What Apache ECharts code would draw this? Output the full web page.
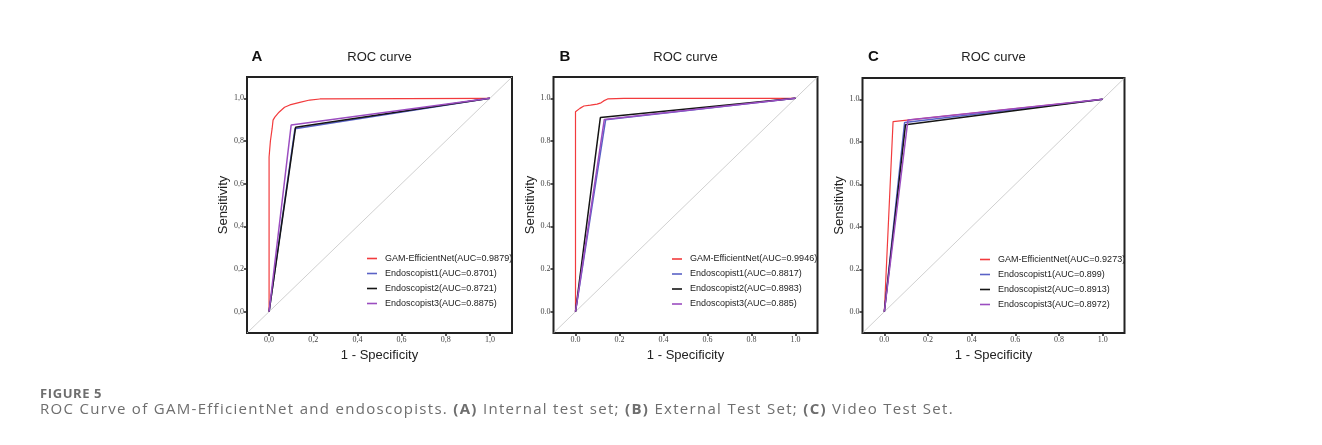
<!DOCTYPE html>
<html><head><meta charset="utf-8">
<script src="https://cdn.jsdelivr.net/npm/echarts@6.0.0/dist/echarts.min.js"></script>
<style>
html,body{margin:0;padding:0;background:#fff;width:1322px;height:445px;overflow:hidden;}
#chart{position:absolute;left:0;top:0;width:1322px;height:445px;}
#frame{position:absolute;left:9px;top:10px;right:0;bottom:0;border-top:2px solid #dcdcdc;border-left:1px solid #cfcfcf;pointer-events:none;}
#fig{position:absolute;left:40px;top:384px;font-family:"Open Sans";font-weight:700;font-size:13px;color:#6e6e6e;letter-spacing:0.6px;white-space:nowrap;}
#cap{position:absolute;left:40px;top:398px;font-family:"Open Sans";font-size:15px;color:#6e6e6e;letter-spacing:1.3px;white-space:nowrap;}
#cap b{font-weight:700;}
</style></head>
<body>
<div id="frame"></div>
<div id="chart"></div>
<div id="fig">FIGURE 5</div>
<div id="cap">ROC Curve of GAM-EfficientNet and endoscopists. <b>(A)</b> Internal test set; <b>(B)</b> External Test Set; <b>(C)</b> Video Test Set.</div>
<script>
// ---------- data ----------
const panelLetters = ['A', 'B', 'C'];
const panelTitle = 'ROC curve';
const xAxisName = '1 - Specificity';
const yAxisName = 'Sensitivity';
const tickValues = [0, 0.2, 0.4, 0.6, 0.8, 1.0];
const tickLabelsA = ['0,0', '0,2', '0,4', '0,6', '0,8', '1,0'];
const tickLabelsB = ['0.0', '0.2', '0.4', '0.6', '0.8', '1.0'];
const tickLabelsC = ['0.0', '0.2', '0.4', '0.6', '0.8', '1.0'];
const diagonal = [[-0.1, -0.1], [1.1, 1.1]];

const namesA = ['GAM-EfficientNet(AUC=0.9879)', 'Endoscopist1(AUC=0.8701)', 'Endoscopist2(AUC=0.8721)', 'Endoscopist3(AUC=0.8875)'];
const namesB = ['GAM-EfficientNet(AUC=0.9946)', 'Endoscopist1(AUC=0.8817)', 'Endoscopist2(AUC=0.8983)', 'Endoscopist3(AUC=0.885)'];
const namesC = ['GAM-EfficientNet(AUC=0.9273)', 'Endoscopist1(AUC=0.899)', 'Endoscopist2(AUC=0.8913)', 'Endoscopist3(AUC=0.8972)'];

const gamA = [[0,0],[0,0.725],[0.006,0.80],[0.014,0.86],[0.018,0.898],[0.026,0.912],[0.033,0.921],[0.045,0.935],[0.056,0.945],[0.07,0.958],[0.094,0.969],[0.139,0.981],[0.184,0.992],[0.23,0.997],[1,1]];
const endo1A = [[0,0],[0.117,0.857],[1,1]];
const endo2A = [[0,0],[0.12,0.864],[1,1]];
const endo3A = [[0,0],[0.1,0.875],[1,1]];

const gamB = [[0,0],[0,0.937],[0.008,0.945],[0.02,0.953],[0.038,0.964],[0.068,0.968],[0.098,0.973],[0.116,0.979],[0.128,0.988],[0.146,0.997],[0.22,1],[1,1]];
const endo1B = [[0,0],[0.137,0.900],[1,1]];
const endo2B = [[0,0],[0.113,0.910],[1,1]];
const endo3B = [[0,0],[0.131,0.901],[1,1]];

const gamC = [[0,0],[0.04,0.895],[1,1]];
const endo1C = [[0,0],[0.093,0.891],[1,1]];
const endo2C = [[0,0],[0.097,0.880],[1,1]];
const endo3C = [[0,0],[0.108,0.902],[1,1]];

// ---------- styling / layout ----------
const colors = ['#f23b3d', '#5a62c6', '#151515', '#9b4dc0'];
const widths = [1.2, 1.5, 1.5, 1.5];
const grids = [
  {left: 247, top: 77, width: 265, height: 256},
  {left: 553.5, top: 77, width: 264, height: 256},
  {left: 862.5, top: 78, width: 262, height: 255}
];
const letterPos = [[251.5, 49], [559.5, 49], [868, 49]];
const legendPos = [[367, 252.5], [672, 253], [980, 253.5]];
const panels = [
  {names: namesA, curves: [gamA, endo1A, endo2A, endo3A], ticks: tickLabelsA},
  {names: namesB, curves: [gamB, endo1B, endo2B, endo3B], ticks: tickLabelsB},
  {names: namesC, curves: [gamC, endo1C, endo2C, endo3C], ticks: tickLabelsC}
];

function fmt(labels) {
  return function (v) {
    const i = tickValues.findIndex(t => Math.abs(t - v) < 1e-6);
    return i >= 0 ? labels[i] : '';
  };
}

const option = {
  animation: false,
  backgroundColor: '#fff',
  title: [],
  legend: [],
  grid: [],
  xAxis: [],
  yAxis: [],
  series: []
};

panels.forEach((p, i) => {
  const g = grids[i];
  option.grid.push(Object.assign({show: true, borderColor: '#222', borderWidth: 2, backgroundColor: 'transparent', containLabel: false}, g));
  option.title.push({
    text: panelTitle, left: g.left + g.width / 2, top: 51, textAlign: 'center', padding: 0,
    textStyle: {fontFamily: 'Liberation Sans', fontSize: 13, fontWeight: 'normal', color: '#222'}
  });
  option.title.push({
    text: panelLetters[i], left: letterPos[i][0], top: letterPos[i][1], padding: 0,
    textStyle: {fontFamily: 'Liberation Sans', fontSize: 15, fontWeight: 'bold', color: '#111'}
  });
  const axisCommon = {
    min: -0.1, max: 1.1, gridIndex: i,
    nameLocation: 'middle',
    nameTextStyle: {fontFamily: 'Liberation Sans', fontSize: 13, color: '#222'},
    axisLine: {show: false, onZero: false},
    axisTick: {show: true, inside: false, length: 3, customValues: tickValues, lineStyle: {color: '#222', width: 1.5}},
    axisLabel: {show: true, customValues: tickValues, margin: 3, formatter: fmt(p.ticks), fontFamily: 'Liberation Serif', fontSize: 8, color: '#444'},
    splitLine: {show: false}
  };
  option.xAxis.push(Object.assign({}, axisCommon, {type: 'value', position: 'bottom', name: xAxisName, nameGap: 15}));
  option.yAxis.push(Object.assign({}, axisCommon, {type: 'value', position: 'left', name: yAxisName, nameGap: 17}));
  option.legend.push({
    orient: 'vertical', left: legendPos[i][0], top: legendPos[i][1], padding: 0,
    itemWidth: 10, itemHeight: 1.6, itemGap: 3, icon: 'rect', selectedMode: false,
    data: p.names,
    textStyle: {fontFamily: 'Liberation Sans', fontSize: 9, color: '#222', lineHeight: 12, padding: [0, 0, 0, 3]}
  });
  option.series.push({
    type: 'line', name: 'diagonal' + i, xAxisIndex: i, yAxisIndex: i, data: diagonal,
    symbol: 'none', silent: true, lineStyle: {color: '#c4c4c4', width: 0.8}, z: 1
  });
  p.curves.forEach((c, k) => {
    option.series.push({
      type: 'line', name: p.names[k], xAxisIndex: i, yAxisIndex: i, data: c,
      symbol: 'none', clip: true, color: colors[k],
      lineStyle: {color: colors[k], width: widths[k]}, z: 2 + k
    });
  });
});

const chart = echarts.init(document.getElementById('chart'), null, {renderer: 'canvas'});
chart.setOption(option);
</script>
</body></html>
